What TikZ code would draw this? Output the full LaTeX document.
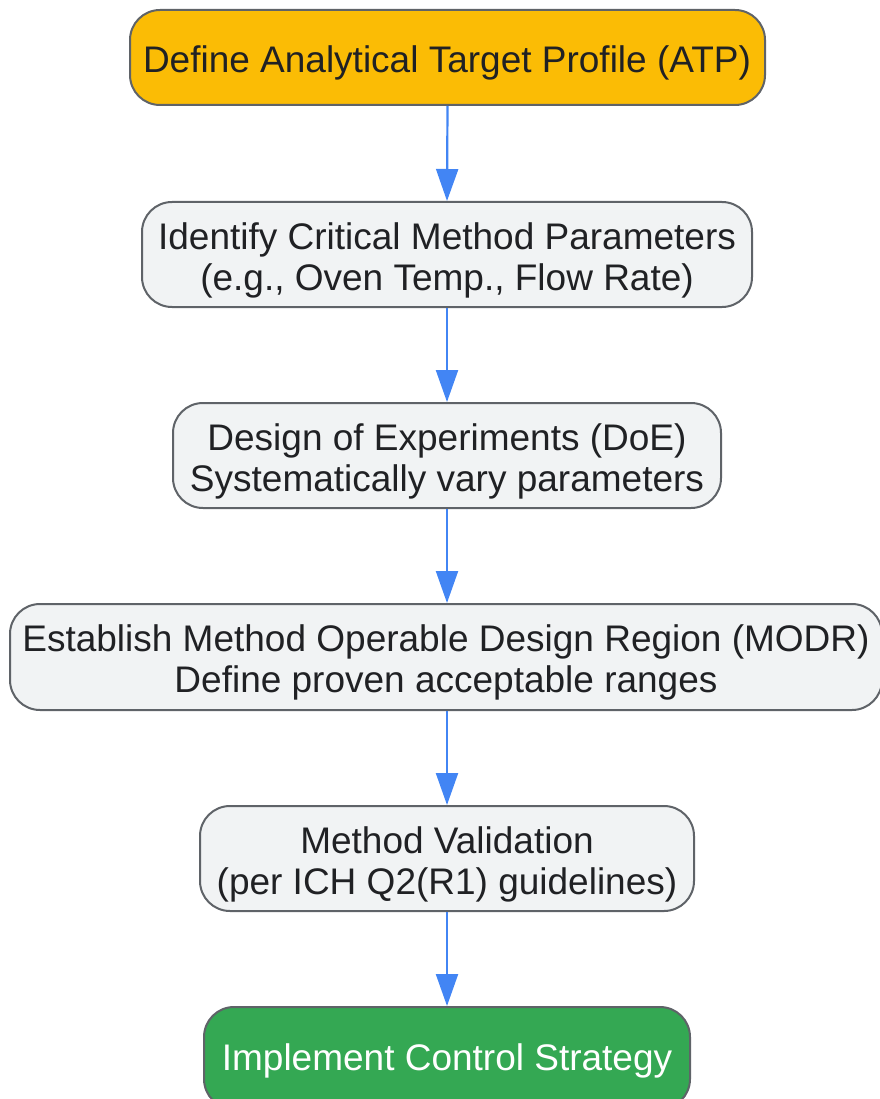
\documentclass[tikz,border=0pt]{standalone}
\usepackage{fontspec}
\setmainfont{Liberation Sans}
\usetikzlibrary{arrows.meta}
\definecolor{bordergray}{HTML}{5F6368}
\definecolor{boxfill}{HTML}{F1F3F4}
\definecolor{txt}{HTML}{202124}
\definecolor{atporange}{HTML}{FBBC05}
\definecolor{implgreen}{HTML}{34A853}
\definecolor{arrowblue}{HTML}{4285F4}
\tikzset{
  flowbox/.style={draw=bordergray, line width=2pt, rounded corners=30pt, fill=boxfill, inner sep=0pt},
  flowtext/.style={text=txt, align=center, inner sep=0pt, font=\fontsize{37}{41}\selectfont},
  flowarrow/.style={draw=arrowblue, line width=2.2pt, -{Triangle[length=32pt,width=22pt]}}
}
\begin{document}
\begin{tikzpicture}[x=1pt,y=-1pt]
\useasboundingbox (0,0) rectangle (879,1099);
\node[flowbox, fill=atporange, minimum width=635pt, minimum height=95pt] (atp) at (447.5,57.5) {};
\node[flowtext] (atpt) at (447,63) {Define Analytical Target Profile (ATP)};
\node[flowbox, minimum width=610pt, minimum height=105pt] (cmp) at (447,254.5) {};
\node[flowtext] (cmpt) at (447,260) {Identify Critical Method Parameters\\(e.g., Oven Temp., Flow Rate)};
\node[flowbox, minimum width=548pt, minimum height=105pt] (doe) at (447,455.5) {};
\node[flowtext] (doet) at (447,461) {Design of Experiments (DoE)\\Systematically vary parameters};
\node[flowbox, minimum width=872pt, minimum height=106pt] (modr) at (446,657) {};
\node[flowtext] (modrt) at (446,662.5) {Establish Method Operable Design Region (MODR)\\Define proven acceptable ranges};
\node[flowbox, minimum width=494pt, minimum height=105pt] (val) at (447,858.5) {};
\node[flowtext] (valt) at (447,864) {Method Validation\\(per ICH Q2(R1) guidelines)};
\node[flowbox, fill=implgreen, minimum width=486pt, minimum height=102pt] (impl) at (447,1058) {};
\node[flowtext, text=white] (implt) at (447,1060.5) {Implement Control Strategy};
\draw[flowarrow] (atp.south) -- (cmp.north);
\draw[flowarrow] (cmp.south) -- (doe.north);
\draw[flowarrow] (doe.south) -- (doe.south |- modr.north);
\draw[flowarrow] (modr.south -| val.north) -- (val.north);
\draw[flowarrow] (val.south) -- (impl.north);
\end{tikzpicture}
\end{document}
